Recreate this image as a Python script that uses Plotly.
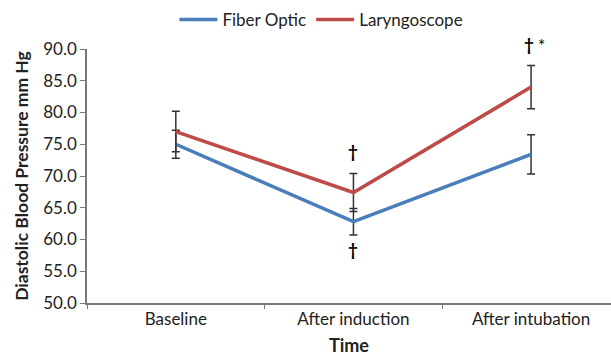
import plotly.graph_objects as go

categories = ["Baseline", "After induction", "After intubation"]
fiber_optic = [75.0, 62.8, 73.4]
fiber_err = [2.2, 2.1, 3.1]
laryngoscope = [77.0, 67.4, 84.0]
laryngo_err = [3.2, 3.0, 3.4]
y_ticks = [50, 55, 60, 65, 70, 75, 80, 85, 90]

FONT = "Lato"
TXT = "#222"
fig = go.Figure()
fig.add_trace(go.Scatter(
    x=categories, y=fiber_optic, name="Fiber Optic", mode="lines",
    line=dict(color="#4A7EBB", width=3.5),
    error_y=dict(type="data", array=fiber_err, color="#333", thickness=1.5, width=4),
))
fig.add_trace(go.Scatter(
    x=categories, y=laryngoscope, name="Laryngoscope", mode="lines",
    line=dict(color="#BE4B48", width=3.5),
    error_y=dict(type="data", array=laryngo_err, color="#333", thickness=1.5, width=4),
))

ann = [
    dict(x=categories[1], y=laryngoscope[1] + laryngo_err[1], text="<b>†</b>", yshift=22),
    dict(x=categories[1], y=fiber_optic[1] - fiber_err[1], text="<b>†</b>", yshift=-14),
    dict(x=categories[2], y=laryngoscope[2] + laryngo_err[2], text="<b>†</b>", yshift=21, xshift=-2),
    dict(x=categories[2], y=laryngoscope[2] + laryngo_err[2], text="*", yshift=20, xshift=10),
]
for a in ann:
    fig.add_annotation(x=a["x"], y=a["y"], text=a["text"], showarrow=False,
                       xshift=a.get("xshift", 0), yshift=a["yshift"],
                       font=dict(family=FONT, size=17, color="black"))

fig.update_layout(
    width=611, height=358,
    margin=dict(l=87, r=0, t=49, b=55, autoexpand=False),
    paper_bgcolor="white", plot_bgcolor="white",
    font=dict(family=FONT, size=17, color=TXT),
    showlegend=True,
    legend=dict(orientation="h", x=0.526, xref="container", xanchor="center",
                y=0.944, yref="container", yanchor="middle",
                font=dict(family=FONT, size=17, color=TXT), itemwidth=38),
    xaxis=dict(
        type="category", range=[-0.5, 2.45], showgrid=False, automargin=False,
        showline=True, linecolor="#777", linewidth=1.5,
        ticks="outside", tickson="boundaries", ticklen=4, tickcolor="#777",
        tickfont=dict(family=FONT, size=17, color=TXT),
        title=dict(text="<b>Time</b>", font=dict(family=FONT, size=18, color=TXT), standoff=11),
    ),
    yaxis=dict(
        range=[50, 90], tickvals=y_ticks, tickformat=".1f", showgrid=False, zeroline=False,
        automargin=False,
        showline=True, linecolor="#777", linewidth=1.5,
        ticks="outside", ticklen=5, tickcolor="#777",
        tickfont=dict(family=FONT, size=17, color=TXT),
        title=dict(text="<b>Diastolic Blood Pressure mm Hg</b>", font=dict(family=FONT, size=17.5, color=TXT), standoff=10),
    ),
)
fig.write_html("out.html", config={"displayModeBar": False},
               post_script="document.body.style.margin='0';document.body.style.overflow='hidden';")
